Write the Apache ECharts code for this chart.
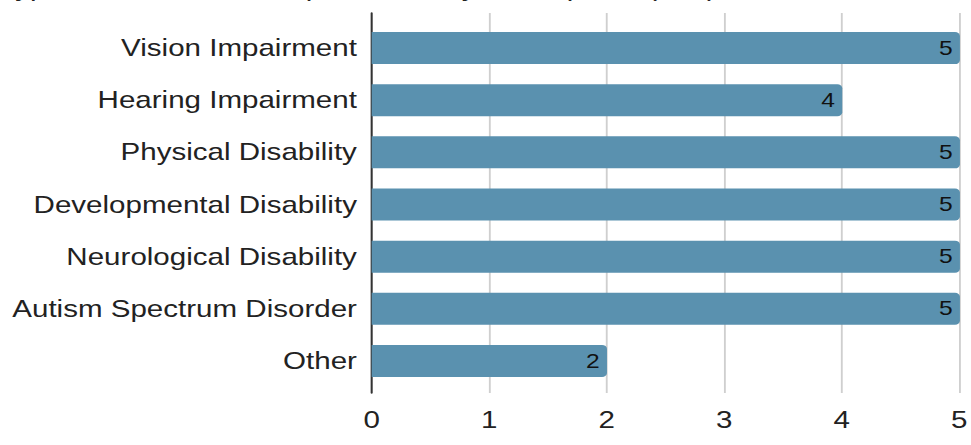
<!DOCTYPE html>
<html>
<head>
<meta charset="utf-8">
<script src="https://cdn.jsdelivr.net/npm/echarts@6/dist/echarts.min.js"></script>
<style>
html,body{margin:0;padding:0;background:#fff;overflow:hidden}
#wrap{width:971px;height:445px;overflow:hidden}
#c{width:789px;height:445px;transform:scaleX(1.2307);transform-origin:0 0}
</style>
</head>
<body>
<div id="wrap"><div id="c"></div></div>
<script>
const titleText = "Types of Disabilities Represented by Participants (n=5)";
const categories = ["Vision Impairment","Hearing Impairment","Physical Disability","Developmental Disability","Neurological Disability","Autism Spectrum Disorder","Other"];
const values = [5,4,5,5,5,5,2];
const xTicks = [0,1,2,3,4,5];

const chart = echarts.init(document.getElementById('c'), null, {renderer: 'svg'});
const font = "'Liberation Sans', Arial, Helvetica, sans-serif";
chart.setOption({
  animation: false,
  title: {text: titleText, left: -6, top: -29, textStyle: {fontFamily: font, fontSize: 24, fontWeight: 'normal', color: '#222'}},
  grid: [
    {left: 302, right: 9, top: 13, bottom: 52},
    {left: 302, right: 9, top: 22, bottom: 58}
  ],
  xAxis: [
    {gridIndex: 0, type: 'value', min: xTicks[0], max: xTicks[xTicks.length-1], interval: 1,
     axisLine: {show: false}, axisTick: {show: false},
     axisLabel: {fontFamily: font, fontSize: 24, color: '#222', margin: 15},
     splitLine: {show: true, lineStyle: {color: '#cfcfcf', width: 1.5}}},
    {gridIndex: 1, type: 'value', min: xTicks[0], max: xTicks[xTicks.length-1], interval: 1, show: false}
  ],
  yAxis: [
    {gridIndex: 0, type: 'value', min: 0, max: 1, axisLine: {show: true, onZero: false, lineStyle: {color: '#333', width: 1.6}},
     axisTick: {show: false}, axisLabel: {show: false}, splitLine: {show: false}},
    {gridIndex: 1, type: 'category', data: categories, inverse: true,
     axisLine: {show: false}, axisTick: {show: false},
     axisLabel: {fontFamily: font, fontSize: 24, color: '#222', margin: 12}}
  ],
  series: [{
    type: 'bar', xAxisIndex: 1, yAxisIndex: 1, data: values, barWidth: 32,
    itemStyle: {color: '#5a91af', borderRadius: [0, 4, 4, 0]},
    label: {show: true, position: 'insideRight', distance: 6, fontFamily: font, fontSize: 20, color: '#111'}
  }]
});
</script>
</body>
</html>
